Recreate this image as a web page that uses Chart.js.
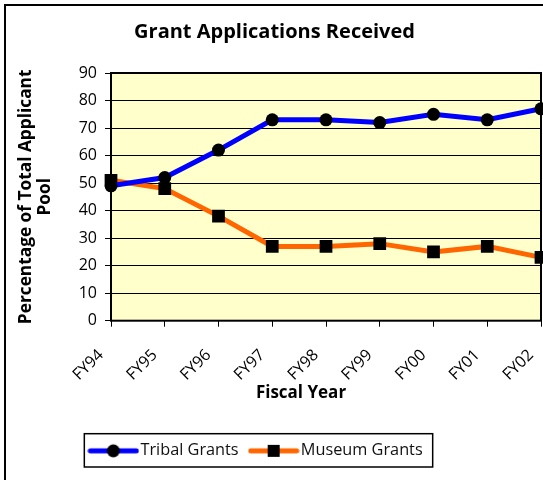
<!DOCTYPE html>
<html>
<head>
<meta charset="utf-8">
<script src="https://cdn.jsdelivr.net/npm/chart.js@4"></script>
<style>
  html, body { margin: 0; padding: 0; background: #fff; }
  #wrap { width: 543px; height: 480px; }
</style>
</head>
<body>
<div id="wrap"><canvas id="chart" width="543" height="480"></canvas></div>
<script>
const years = ['FY94', 'FY95', 'FY96', 'FY97', 'FY98', 'FY99', 'FY00', 'FY01', 'FY02']
const tribal = [49, 52, 62, 73, 73, 72, 75, 73, 77]
const museum = [51, 48, 38, 27, 27, 28, 25, 27, 23]
const yTicks = [0, 10, 20, 30, 40, 50, 60, 70, 80, 90]

const FONT = '"Open Sans", "DejaVu Sans", sans-serif'

// little line+marker pictures for the legend
function legendIcon (color, marker) {
  const c = document.createElement('canvas')
  c.width = 52
  c.height = 16
  const ctx = c.getContext('2d')
  ctx.strokeStyle = color
  ctx.lineWidth = 5
  ctx.lineCap = 'round'
  ctx.beginPath()
  ctx.moveTo(3, 8)
  ctx.lineTo(49, 8)
  ctx.stroke()
  ctx.fillStyle = '#000'
  if (marker === 'circle') {
    ctx.beginPath()
    ctx.arc(26, 8, 6.5, 0, Math.PI * 2)
    ctx.fill()
  } else {
    ctx.fillRect(20, 2, 12, 12)
  }
  return c
}

const frame = {
  id: 'frame',
  afterLayout (chart) {
    // legend sits a bit left of centre in the original
    const lg = chart.legend
    lg.left -= 16
    lg.right -= 16
  },
  beforeDraw (chart) {
    const { ctx, chartArea: a } = chart
    ctx.save()
    ctx.fillStyle = '#fff'
    ctx.fillRect(0, 0, chart.width, chart.height)
    ctx.strokeStyle = '#000'
    ctx.lineWidth = 2
    ctx.strokeRect(5, 5, chart.width + 20, chart.height + 20)
    ctx.fillStyle = '#FFFFCC'
    ctx.fillRect(a.left, a.top, a.right - a.left, a.bottom - a.top)
    ctx.restore()
  },
  beforeDatasetsDraw (chart) {
    const { ctx, chartArea: a } = chart
    ctx.save()
    ctx.strokeStyle = '#000'
    ctx.lineWidth = 2
    ctx.strokeRect(a.left, a.top, a.right - a.left, a.bottom - a.top)
    ctx.restore()
  },
  afterDraw (chart) {
    const { ctx, chartArea: a } = chart
    ctx.save()
    ctx.fillStyle = '#000'
    ctx.font = 'bold 17px ' + FONT
    ctx.textAlign = 'center'
    ctx.textBaseline = 'middle'
    ctx.fillText('Fiscal Year', (a.left + a.right) / 2 - 25, 393)
    // box round the legend
    const boxes = chart.legend.legendHitBoxes
    if (boxes.length) {
      const l = Math.min(...boxes.map(b => b.left)) - 10
      const r = Math.max(...boxes.map(b => b.left + b.width)) + 10
      const t = boxes[0].top - 9
      const h = boxes[0].height + 17
      ctx.strokeStyle = '#000'
      ctx.lineWidth = 1.5
      ctx.strokeRect(l, t, r - l, h)
    }
    ctx.restore()
  }
}

new Chart(document.getElementById('chart'), {
  type: 'line',
  data: {
    labels: years,
    datasets: [{
      label: 'Tribal Grants',
      data: tribal,
      borderColor: '#0000FF',
      backgroundColor: '#000',
      borderWidth: 5,
      pointStyle: 'circle',
      pointRadius: 6.5,
      pointBorderColor: '#000',
      pointBackgroundColor: '#000',
      pointBorderWidth: 0,
      tension: 0
    }, {
      label: 'Museum Grants',
      data: museum,
      borderColor: '#FF6600',
      backgroundColor: '#000',
      borderWidth: 5,
      pointStyle: 'rect',
      pointRadius: 9,
      pointBorderColor: '#000',
      pointBackgroundColor: '#000',
      pointBorderWidth: 0,
      tension: 0
    }]
  },
  options: {
    responsive: false,
    animation: false,
    layout: { autoPadding: false, padding: { left: 8, right: 2, top: 0, bottom: 11 } },
    scales: {
      x: {
        offset: false,
        afterFit: (s) => {
          s.height = 106
          s.paddingLeft = 0
          s.paddingRight = 0
        },
        grid: { display: true, drawOnChartArea: false, drawTicks: true, tickLength: 6, color: '#000', lineWidth: 1 },
        border: { display: false },
        ticks: {
          color: '#000',
          font: { family: FONT, size: 16 },
          minRotation: 45,
          maxRotation: 45,
          padding: 19,
          labelOffset: -10,
          autoSkip: false
        }
      },
      y: {
        min: 0,
        max: 90,
        afterFit: (s) => { s.width = 103 },
        afterBuildTicks: (s) => { s.ticks = yTicks.map(v => ({ value: v })) },
        grid: { color: '#000', lineWidth: 1, tickLength: 6 },
        border: { display: false },
        ticks: { color: '#000', font: { family: FONT, size: 16 }, padding: 8 },
        title: {
          display: true,
          text: ['Percentage of Total Applicant', 'Pool'],
          color: '#000',
          font: { family: FONT, size: 17.3, weight: 'bold', lineHeight: 1.1 },
          padding: { top: 9, bottom: 0 }
        }
      }
    },
    plugins: {
      title: {
        display: true,
        text: 'Grant Applications Received',
        color: '#000',
        font: { family: FONT, size: 20, weight: 'bold', lineHeight: 1.2 },
        padding: { top: 20, bottom: 29 }
      },
      legend: {
        position: 'bottom',
        labels: {
          usePointStyle: true,
          pointStyleWidth: 38,
          padding: 16,
          color: '#111',
          font: { family: FONT, size: 16.3 },
          generateLabels (chart) {
            const items = Chart.defaults.plugins.legend.labels.generateLabels(chart)
            items[0].pointStyle = legendIcon('#0000FF', 'circle')
            items[1].pointStyle = legendIcon('#FF6600', 'rect')
            return items
          }
        }
      },
      tooltip: { enabled: false }
    }
  },
  plugins: [frame]
})
</script>
</body>
</html>
